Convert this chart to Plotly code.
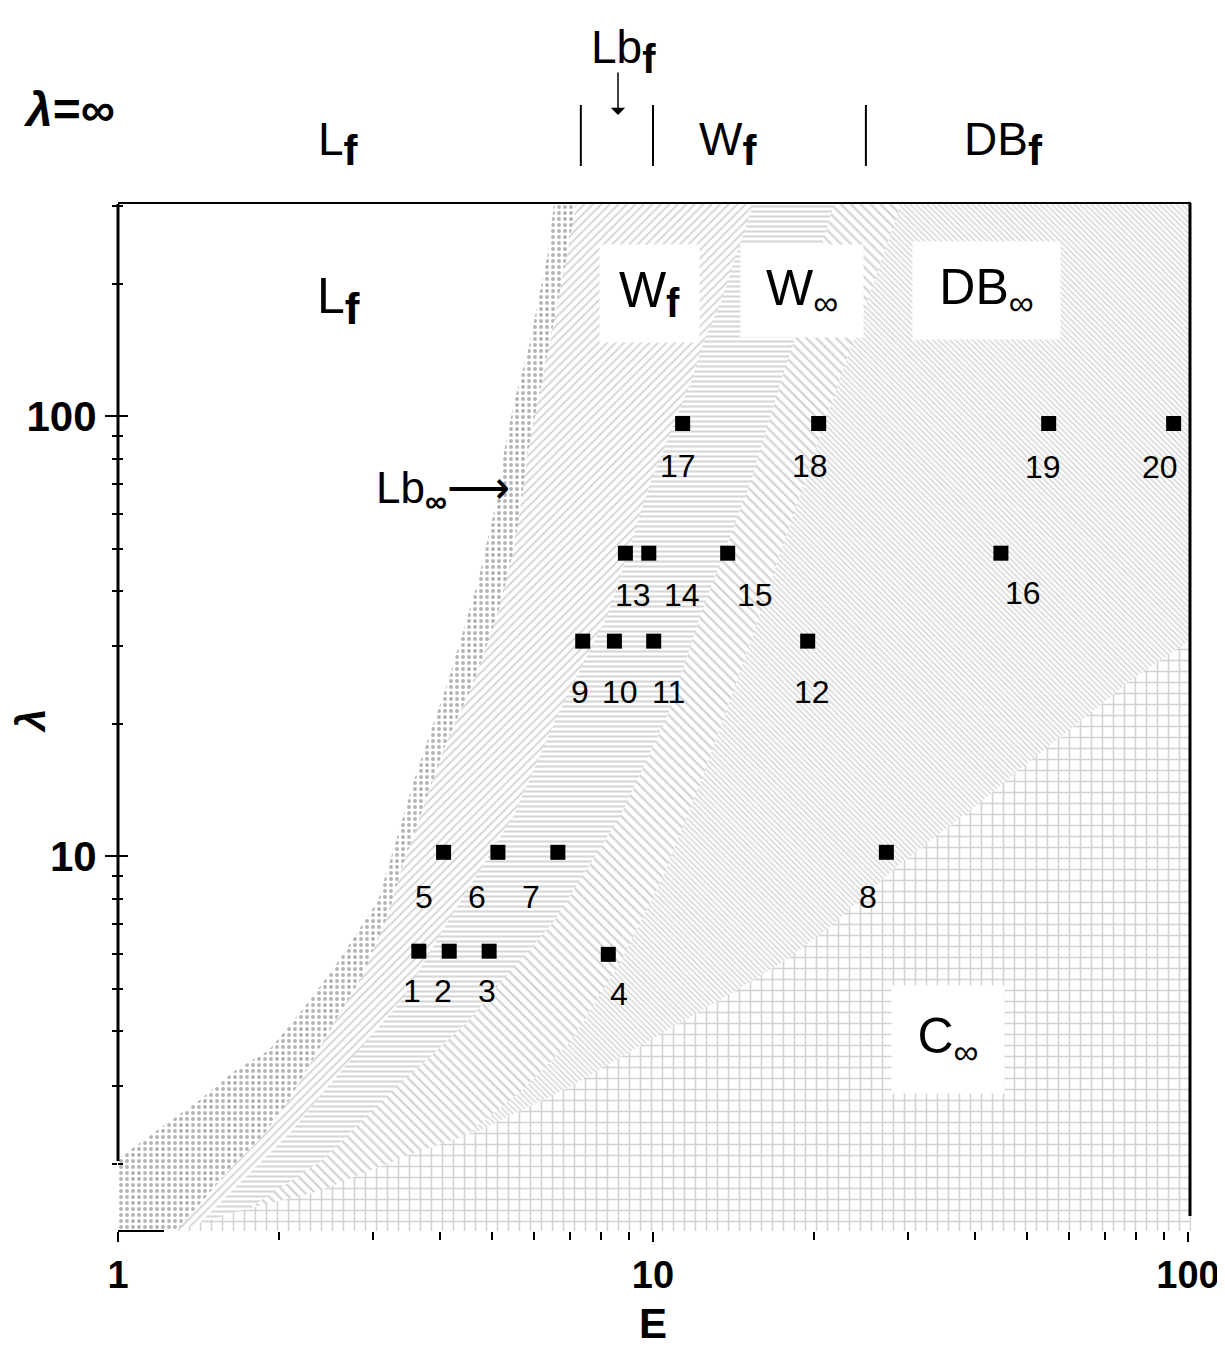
import numpy as np
import plotly.graph_objects as go

# ---------------- data ----------------
point_id = [str(i) for i in range(1, 21)]
point_E = [3.65, 4.16, 4.94, 8.25, 4.06, 5.13, 6.64, 27.3, 7.39, 8.47,
           10.03, 19.46, 8.88, 9.82, 13.79, 44.7, 11.36, 20.4, 54.9, 94.0]
point_lam = [6.08, 6.08, 6.08, 5.98, 10.2, 10.2, 10.2, 10.2, 30.8, 30.8,
             30.8, 30.8, 48.8, 48.8, 48.8, 48.8, 96.2, 96.2, 96.2, 96.2]
label_dx = [-7, -6, -2, 11, -20, -21, -27, -18, -3, 6, 15, 4, 8, 33, 27, 22, -5, -9, -6, -14]
label_dy = [40, 40, 40, 40, 45, 45, 45, 45, 51, 51, 51, 51, 42, 42, 42, 40, 43, 43, 44, 44]

# regime boundaries (E, lambda), top to bottom
lbinf_left_E = [6.53, 6.37, 6.10, 5.84, 5.50, 5.27, 5.15, 4.71, 4.14, 3.57, 3.38, 3.06, 2.81,
                2.53, 2.20, 1.91, 1.65, 1.41, 1.20, 1.09, 1.0]
lbinf_left_L = [303, 237, 182, 140.5, 108, 83.2, 67.6, 42.2, 25.0, 14.8, 11.8, 7.91, 6.76,
                5.56, 4.44, 3.61, 3.25, 2.77, 2.41, 2.21, 2.05]
lbinf_right_E = [7.18, 6.93, 6.64, 6.37, 6.10, 5.84, 5.71, 5.50, 5.13, 4.63, 4.07, 3.68, 3.38,
                 3.20, 2.85, 2.61, 2.40, 2.08, 1.83, 1.65, 1.49, 1.35, 1.29]
lbinf_right_L = [303, 237, 182, 140.5, 108, 83.2, 67.6, 50.1, 35.5, 25.0, 17.6, 12.4, 9.25,
                 7.38, 5.28, 4.44, 3.74, 2.77, 2.25, 1.99, 1.73, 1.50, 1.41]
wf_right_E = [15.38, 13.40, 12.45, 11.78, 10.81, 9.91, 8.24, 6.64, 5.50, 4.14, 3.38, 2.61, 2.11, 1.70, 1.40]
wf_right_L = [303, 182, 148, 120, 92.4, 71.1, 35.5, 21.0, 12.4, 7.11, 4.68, 3.25, 2.37, 1.82, 1.44]
winf_right_E = [21.79, 18.35, 17.35, 15.25, 12.30, 10.67, 8.71, 6.53, 4.51, 3.64, 3.10, 2.40, 1.85, 1.52]
winf_right_L = [303, 148, 120, 71.1, 35.5, 21.0, 12.4, 7.11, 4.22, 3.30, 2.77, 2.03, 1.65, 1.41]
mid_right_E = [29.1, 21.6, 18.1, 15.25, 12.30, 10.35, 8.71, 7.03, 5.67, 4.57, 3.38]
mid_right_L = [303, 108, 57.6, 30.8, 14.8, 8.78, 5.77, 3.80, 2.92, 2.37, 1.41]
cinf_top_E = [101.5, 79.3, 65.9, 48.7, 40.5, 33.5, 28.2, 21.5, 17.6, 13.8, 10.8, 6.93, 4.71,
              3.53, 2.36, 1.68, 1.31]
cinf_top_L = [31.1, 25.4, 21.2, 15.8, 13.1, 11.0, 9.33, 6.93, 5.77, 4.83, 4.06, 2.97, 2.37,
              2.10, 1.73, 1.56, 1.42]

# lambda = infinity boundaries (top strip)
top_div_E = [7.33, 10.0, 25.0]

# ---------------- layout constants ----------------
OFF = 7                      # page body offset of the browser
W, H = 1225 - OFF, 1355 - OFF
PL, PR, PT, PB = 117, 1190, 203, 1230   # plot box in screen pixels
PW, PH = PR - PL, PB - PT
L_M, T_M = PL - OFF, PT - OFF
R_M, B_M = W - (PR - OFF), H - (PB - OFF)
XR = [0.0, 2.0056]
YR = [0.148, 2.482]
XLO, XHI, YLO, YHI = 0.95, 110.0, 1.35, 320.0

FONT = "Liberation Sans"


def px(xp):
    return (xp - PL) / PW


def py(yp):
    return (PB - yp) / PH


fig = go.Figure()


def region(E, Lam, shape, fg, size, sol, left_corner=False):
    xs = [E[0]] + list(E)
    ys = [YHI] + list(Lam)
    if left_corner:
        xs += [XLO, XLO]
        ys += [Lam[-1], YLO]
    else:
        xs += [E[-1]]
        ys += [YLO]
    xs += [XHI, XHI]
    ys += [YLO, YHI]
    fig.add_trace(go.Scatter(
        x=xs, y=ys, mode="lines", fill="toself", line=dict(width=0),
        fillcolor="white", hoverinfo="skip", showlegend=False,
        fillpattern=dict(shape=shape, fgcolor=fg, bgcolor="white", size=size,
                         solidity=sol, fillmode="replace")))


# L_b,inf (crosses)
region(lbinf_left_E, lbinf_left_L, ".", "#b4b4b4", 6, 0.33, left_corner=True)
# W_f ("/")
region(lbinf_right_E, lbinf_right_L, "/", "#d2d2d2", 6, 0.3)
# W_inf (horizontal)
region(wf_right_E, wf_right_L, "-", "#d6d6d6", 5, 0.42)
# transition ("\\" medium)
region(winf_right_E, winf_right_L, "\\", "#d2d2d2", 7, 0.32)
# DB_inf (fine "\\")
region(mid_right_E, mid_right_L, "\\", "#d8d8d8", 4, 0.38)

# C_inf bricks
bx = [XHI] + list(cinf_top_E) + [cinf_top_E[-1], XHI]
by = [cinf_top_L[0]] + list(cinf_top_L) + [YLO, YLO]
fig.add_trace(go.Scatter(
    x=bx, y=by, mode="lines", fill="toself", line=dict(width=0), fillcolor="white",
    hoverinfo="skip", showlegend=False,
    fillpattern=dict(shape="+", fgcolor="#d2d2d2", bgcolor="white", size=11,
                     solidity=0.26, fillmode="replace")))

# data points
fig.add_trace(go.Scatter(
    x=point_E, y=point_lam, mode="markers",
    marker=dict(symbol="square", size=15, color="black", line=dict(width=0)),
    hoverinfo="skip", showlegend=False))

# dummy traces for overlay axes
fig.add_trace(go.Scatter(x=[None], y=[None], yaxis="y2", showlegend=False, hoverinfo="skip"))
fig.add_trace(go.Scatter(x=[None], y=[None], xaxis="x2", showlegend=False, hoverinfo="skip"))

ann = []
for pid, e, lam, dx, dy in zip(point_id, point_E, point_lam, label_dx, label_dy):
    ann.append(dict(x=np.log10(e), y=np.log10(lam), xref="x", yref="y", text=pid,
                    showarrow=False, xshift=dx, yshift=-dy,
                    font=dict(family=FONT, size=32, color="black")))


def lab(text, xp, yp, size, box=None, bold=False, angle=0, family=FONT):
    d = dict(x=px(xp), y=py(yp), xref="paper", yref="paper", text=text, showarrow=False,
             xanchor="center", yanchor="middle", textangle=angle,
             font=dict(family=family, size=size, color="black", weight="bold" if bold else "normal"))
    if box:
        d.update(bgcolor="white", width=box[0], height=box[1])
    return d


def bigf(sz):
    return "<sub><span style='font-size:%dpx'><b>f</b></span></sub>" % sz


# labels inside the plot
ann.append(lab("L" + bigf(44), 337, 300, 50))
ann.append(lab("W" + bigf(40), 648, 292, 50, box=(97, 95)))
ann.append(lab("W<sub>∞</sub>", 801, 290, 50, box=(120, 90)))
ann.append(lab("DB<sub>∞</sub>", 985, 290, 50, box=(145, 95)))
ann.append(lab("C<sub>∞</sub>", 947, 1038, 50, box=(110, 105)))
ann.append(lab("Lb<sub><b>∞</b></sub>⟶", 442, 490, 44))

# labels above the plot (lambda = infinity)
ann.append(lab("<i>λ</i>=∞", 68, 108, 48, bold=True))
ann.append(lab("L" + bigf(42), 337, 142, 46))
ann.append(lab("W" + bigf(42), 727, 142, 46))
ann.append(lab("DB" + bigf(42), 1002, 142, 46))
ann.append(lab("Lb" + bigf(40), 622, 50, 46))
ann.append(dict(x=px(617), y=py(114), xref="paper", yref="paper", text="", showarrow=True,
                ax=0, ay=-44, axref="pixel", ayref="pixel", arrowhead=1, arrowsize=1.6,
                arrowwidth=1.5, arrowcolor="black"))

# axis titles
ann.append(lab("E", 652, 1322, 42, bold=True))
ann.append(lab("<i>λ</i>", 30, 720, 40, bold=True, angle=-90))

shapes = []
for e in top_div_E:
    xx = np.log10(e) / XR[1]
    shapes.append(dict(type="line", xref="paper", yref="paper", x0=xx, x1=xx,
                       y0=py(165), y1=py(104), line=dict(color="black", width=2)))
# frame pieces: left axis line (down to lambda=2), right border, short bottom piece
shapes.append(dict(type="line", xref="paper", yref="paper", x0=0, x1=0,
                   y0=py(1160), y1=1, line=dict(color="black", width=3), layer="above"))
shapes.append(dict(type="line", xref="paper", yref="paper", x0=px(1189), x1=px(1189),
                   y0=py(1215), y1=py(202), line=dict(color="black", width=3), layer="above"))
shapes.append(dict(type="line", xref="paper", yref="paper", x0=0, x1=px(163),
                   y0=0, y1=0, line=dict(color="black", width=2), layer="above"))

x_minor = [2, 3, 4, 5, 6, 7, 8, 9, 20, 30, 40, 50, 60, 70, 80, 90]
y_minor = [2, 3, 4, 5, 6, 7, 8, 9, 20, 30, 40, 50, 60, 70, 80, 90, 200, 300]

fig.update_layout(
    width=W, height=H, margin=dict(l=L_M, r=R_M, t=T_M, b=B_M, autoexpand=False),
    paper_bgcolor="white", plot_bgcolor="white", showlegend=False,
    annotations=ann, shapes=shapes,
    xaxis=dict(type="log", range=XR, showgrid=False, zeroline=False, showline=False,
               automargin=False,
               ticks="outside", ticklen=10, tickwidth=2, tickcolor="black",
               tickvals=[1, 10, 100], ticktext=["1", "10", "100"],
               tickfont=dict(family=FONT, size=38, color="black", weight="bold"),
               minor=dict(tickvals=x_minor, ticks="outside", ticklen=8, tickwidth=2,
                          tickcolor="black", showgrid=False)),
    xaxis2=dict(type="log", range=XR, overlaying="x", side="top", showline=True,
                linecolor="black", linewidth=2, showgrid=False, zeroline=False,
                automargin=False, ticks="", showticklabels=False),
    yaxis=dict(type="log", range=YR, showgrid=False, zeroline=False, showline=False,
               automargin=False,
               ticks="outside", ticklen=12, tickwidth=2, tickcolor="black",
               tickvals=[10, 100], ticktext=["10", "100"],
               tickfont=dict(family=FONT, size=42, color="black", weight="bold"),
               minor=dict(tickvals=y_minor, ticks="outside", ticklen=5, tickwidth=2,
                          tickcolor="black", showgrid=False)),
    yaxis2=dict(type="log", range=YR, overlaying="y", side="left", showline=False,
                showgrid=False, zeroline=False, showticklabels=False, automargin=False,
                ticks="inside", ticklen=10, tickwidth=2, tickcolor="black",
                tickvals=[10, 100],
                minor=dict(tickvals=y_minor, ticks="inside", ticklen=5, tickwidth=2,
                           tickcolor="black", showgrid=False)),
)

fig.write_html("out.html")
